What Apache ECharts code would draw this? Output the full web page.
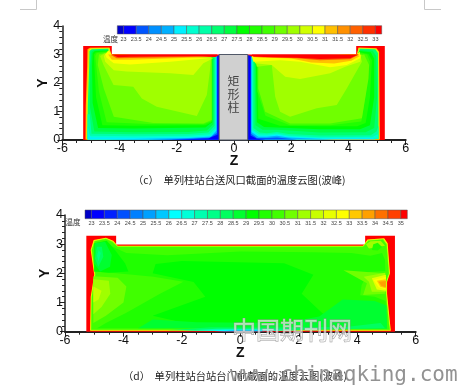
<!DOCTYPE html>
<html><head><meta charset="utf-8">
<style>html,body{margin:0;padding:0;background:#fff}#c{width:459px;height:388px}canvas{filter:blur(0.6px)}</style>
<script src="https://cdn.jsdelivr.net/npm/echarts@6/dist/echarts.min.js"></script>
</head><body><div id="c"></div>
<script>
// Legend levels (tick labels of the colour bars)
const levelsC=[23,23.5,24,24.5,25,25.5,26,26.5,27,27.5,28,28.5,29,29.5,30,30.5,31,31.5,32,32.5,33];
const levelsD=[23,23.5,24,24.5,25,25.5,26,26.5,27,27.5,28,28.5,29,29.5,30,30.5,31,31.5,32,32.5,33,33.5,34,34.5,35];
const paletteC=['#0000c8','#0000ff','#0055ff','#0090ff','#00b0ff','#00f0ff','#00ffd0','#00ffa8','#00ff70','#00ff40','#00ff00','#20ff00','#40ff00','#70ff00','#a0ff00','#d0ff00','#ffff00','#ffc000','#ff9000','#ff6000','#ff3000','#ff0000'];
const paletteD=['#0000c8','#0000ff','#0020ff','#0050ff','#0080ff','#00a0ff','#00c8ff','#00ffff','#00ffd8','#00ffb0','#00ff88','#00ff60','#00ff30','#00ff00','#20ff00','#40ff00','#70ff00','#a0ff00','#c8ff00','#e8ff00','#ffff00','#ffc800','#ffa000','#ff7000','#ff4000','#ff0000'];
const xTicks=[-6,6], yTicks=[0,4];
const captionC='（c）  单列柱站台送风口截面的温度云图(波峰)';
const captionD='（d）  单列柱站台站台门前截面的温度云图(波峰)';
const columnC=[[-0.52,0.48,3]];
const columnText='矩\n形\n柱';
// Room outlines [z,y]
const roomC=[[-5.27,0],[-5.27,3.3],[-4.27,3.3],[-4.27,3.0],[4.27,3.0],[4.27,3.3],[5.27,3.3],[5.27,0]];
const roomD=[[-5.27,0],[-5.27,3.29],[-4.25,3.29],[-4.25,2.99],[4.27,2.99],[4.27,3.29],[5.29,3.29],[5.29,0]];
// Temperature contour regions: [level, boundary in Z,Y]
const leftBandsC=[
[31,[[-5.19,0.02],[-5.18,1.2],[-5.13,2.6],[-5.12,3.18],[-5.03,3.24],[-4.35,3.25],[-4.3,3.0],[-0.55,2.9],[-0.52,0.02]]],
[30,[[-5.15,0.02],[-5.14,1.2],[-5.09,2.6],[-5.08,3.15],[-5,3.21],[-4.35,3.22],[-4.3,3.0],[-0.55,2.9],[-0.52,0.02]]],
[26.5,[[-5.12,0.02],[-5.11,1.2],[-5.06,2.6],[-5.05,3.12],[-4.97,3.18],[-4.4,3.2],[-4.3,2.95],[-0.55,2.9],[-0.52,0.02]]],
[26,[[-5.12,0.02],[-5.12,0.9],[-5.04,0.9],[-4.98,0.22],[-3.5,0.2],[-1.6,0.21],[-0.9,0.26],[-0.68,0.5],[-0.68,2.9],[-0.52,2.95],[-0.52,0.02]]],
[25.5,[[-5.12,0.02],[-5.12,0.5],[-5.03,0.15],[-3.5,0.13],[-1.6,0.15],[-0.85,0.2],[-0.65,0.42],[-0.65,2.9],[-0.52,2.95],[-0.52,0.02]]],
[25,[[-5.1,0.02],[-5.08,0.25],[-5,0.09],[-3.5,0.08],[-1.6,0.1],[-0.82,0.15],[-0.63,0.38],[-0.63,2.9],[-0.52,2.95],[-0.52,0.02]]],
[24.5,[[-4.5,0.02],[-3,0.04],[-1.6,0.07],[-0.8,0.12],[-0.61,0.33],[-0.61,2.92],[-0.52,2.95],[-0.52,0.02]]],
[23.5,[[-3,0.01],[-1.6,0.04],[-0.85,0.08],[-0.6,0.25],[-0.6,2.94],[-0.52,2.97],[-0.52,0.01]]],
[23,[[-2.2,0.01],[-0.9,0.05],[-0.58,0.18],[-0.58,2.95],[-0.52,2.97],[-0.52,0.01]]],
[27,[[-4.88,0.3],[-5.04,1.2],[-5.02,2.6],[-4.98,3.1],[-4.9,3.15],[-4.4,3.17],[-4.3,2.95],[-0.72,2.9],[-0.72,0.55],[-0.95,0.33],[-1.6,0.28],[-3.5,0.27]]],
[27.5,[[-4.75,0.42],[-4.94,1.3],[-4.96,2.6],[-4.94,3.05],[-4.86,3.12],[-4.4,3.14],[-4.3,2.95],[-0.76,2.9],[-0.76,0.62],[-1,0.44],[-3.5,0.4]]],
[28,[[-4.6,0.52],[-4.82,1.5],[-4.9,3],[-4.83,3.08],[-4.4,3.12],[-4.3,2.95],[-0.78,2.9],[-0.78,0.62],[-1,0.52],[-3.5,0.5]]],
[28.5,[[-4.45,0.62],[-4.72,1.7],[-4.85,2.95],[-4.8,3.05],[-4.4,3.1],[-4.3,2.95],[-0.78,2.9],[-0.78,0.66],[-1.05,0.55],[-3,0.56]]],
[29,[[-4.2,0.82],[-4.55,1.81],[-4.76,2.63],[-4.72,3.0],[-4.4,3.08],[-4.3,2.95],[-0.78,2.9],[-0.78,0.7],[-1.07,0.58],[-2.82,0.6]]],
[29.5,[[-4.56,2.63],[-4.21,1.93],[-3.52,1.87],[-3.22,1.46],[-2.7,1.17],[-1.3,0.84],[-0.95,1.58],[-0.84,2.45],[-0.8,2.9],[-4.3,2.95],[-4.5,3.05],[-4.68,2.95]]],
[30,[[-4.55,2.95],[-4.5,2.75],[-4.2,2.45],[-3.75,2.4],[-2.23,2.34],[-1.42,2.28],[-1.07,2.69],[-0.72,2.87],[-4.25,2.95],[-4.4,3.12]]],
[30.5,[[-4.5,3.0],[-4.45,2.89],[-4.2,2.69],[-3.63,2.65],[-2.23,2.75],[-0.72,2.89],[-4.25,2.98],[-4.38,3.15]]],
[31,[[-4.4,3.0],[-4.27,2.82],[-3.63,2.82],[-0.72,2.91],[-4.27,3.0]]],
[32,[[-4.3,2.98],[-4.1,2.87],[-3.6,2.88],[-0.68,2.93],[-4.27,3.0]]],
[33,[[-4.27,3.0],[-4.05,2.9],[-3.6,2.92],[-0.62,2.95],[-0.58,3.0]]]
];
const rightBandsC=[
[31,[[5.1,0.02],[5.08,2.0],[5.07,3.1],[4.98,3.22],[4.35,3.25],[4.3,3.0],[0.5,2.9],[0.5,0.02]]],
[30,[[5.07,0.02],[5.06,2.0],[5.05,3.08],[4.96,3.2],[4.35,3.22],[4.3,3.0],[0.5,2.9],[0.5,0.02]]],
[26.5,[[5.05,0.04],[5.04,2.0],[5.03,3.05],[4.94,3.18],[4.4,3.2],[4.3,2.95],[0.5,2.9],[0.5,0.02]]],
[26,[[5.05,0.04],[5.05,0.5],[4.98,0.3],[4.78,0.17],[3,0.16],[1.9,0.21],[1.5,0.28],[1.15,0.24],[0.9,0.26],[0.68,0.42],[0.68,2.9],[0.48,2.95],[0.48,0.02]]],
[25.5,[[5.05,0.04],[5.02,0.2],[4.85,0.11],[3,0.1],[1.9,0.16],[1.5,0.23],[1.15,0.19],[0.88,0.2],[0.65,0.36],[0.65,2.9],[0.48,2.95],[0.48,0.02]]],
[25,[[4.95,0.02],[4.85,0.07],[3,0.06],[1.9,0.12],[1.5,0.19],[1.15,0.15],[0.86,0.15],[0.63,0.33],[0.63,2.9],[0.48,2.95],[0.48,0.02]]],
[24.5,[[3.5,0.02],[1.9,0.09],[1.5,0.15],[1.15,0.11],[0.85,0.11],[0.61,0.28],[0.61,2.92],[0.48,2.95],[0.48,0.02]]],
[23.5,[[2.2,0.02],[1.5,0.09],[1.15,0.07],[0.8,0.07],[0.6,0.22],[0.6,2.94],[0.48,2.97],[0.48,0.01]]],
[23,[[1.1,0.01],[0.8,0.04],[0.58,0.16],[0.58,2.95],[0.48,2.97],[0.48,0.01]]],
[27,[[0.72,2.9],[4.3,2.95],[4.4,3.16],[4.85,3.13],[4.97,2.95],[5.0,1.5],[4.9,0.42],[4.6,0.27],[3,0.26],[1.5,0.36],[1,0.36],[0.75,0.52]]],
[27.5,[[0.76,2.9],[4.3,2.95],[4.4,3.12],[4.78,3.08],[4.9,2.85],[4.9,1.5],[4.75,0.52],[4.4,0.38],[3,0.38],[1.5,0.44],[1.05,0.46],[0.8,0.62]]],
[28,[[0.8,2.9],[4.3,2.95],[4.4,3.08],[4.7,3.02],[4.82,2.8],[4.75,1.5],[4.6,0.6],[4.3,0.48],[3,0.48],[1.6,0.5],[0.85,0.75]]],
[28.5,[[0.82,2.9],[4.3,2.95],[4.4,3.05],[4.65,3.0],[4.75,2.75],[4.6,1.6],[4.45,0.65],[3.36,0.52],[1.96,0.52],[1.1,0.85],[0.82,1.7]]],
[29,[[0.7,2.9],[0.85,2.57],[0.85,1.81],[1.09,0.99],[1.96,0.58],[3.36,0.58],[4.47,0.76],[4.7,2.16],[4.72,2.63],[4.55,3.0],[4.3,2.95]]],
[29.5,[[0.8,2.57],[1.32,2.63],[1.44,1.52],[1.61,0.99],[1.96,0.82],[2.89,1.11],[3.59,1.23],[3.94,1.81],[4.47,2.75],[4.4,3.05],[4.3,2.95],[0.7,2.9]]],
[30,[[0.74,2.69],[1.32,2.63],[1.79,2.22],[2.31,2.14],[3.36,2.34],[3.89,2.57],[4.41,2.75],[4.45,3.0],[4.3,2.97],[0.65,2.92]]],
[30.5,[[0.68,2.75],[1.61,2.8],[2.31,2.75],[3.36,2.55],[3.94,2.63],[4.41,2.87],[4.4,3.1],[4.28,3.0],[0.62,2.94]]],
[31,[[0.68,2.9],[2,2.86],[2.7,2.72],[3.5,2.68],[4.1,2.78],[4.4,2.95],[4.28,3.0]]],
[32,[[0.68,2.91],[2.2,2.87],[3,2.8],[4.05,2.83],[4.37,3.0]]],
[33,[[0.62,3.0],[0.68,2.92],[2.2,2.89],[3.01,2.84],[4.06,2.87],[4.35,3.0]]]
];
const bandsD=[
[32.5,[[-5.14,0.03],[-5.12,1.2],[-5.0,1.95],[-5.12,2.8],[-5.02,3.14],[-4.6,3.22],[-4.35,3.12],[-4.2,2.95],[4.2,2.95],[4.35,3.16],[4.92,3.2],[5.04,3.03],[5.12,2.0],[5.02,1.7],[5.02,1.3],[5.12,0.3],[5.15,0.03]]],
[31,[[-5.12,0.05],[-5.1,1.2],[-4.98,1.95],[-5.1,2.8],[-5,3.12],[-4.6,3.2],[-4.37,3.1],[-4.2,2.93],[4.2,2.93],[4.37,3.14],[4.9,3.18],[5.02,3.01],[5.1,2.0],[5,1.7],[5,1.3],[5.1,0.3],[5.13,0.05]]],
[30,[[-5.1,0.07],[-5.08,1.2],[-4.96,1.95],[-5.08,2.8],[-4.98,3.1],[-4.6,3.18],[-4.39,3.08],[-4.2,2.91],[4.2,2.91],[4.39,3.12],[4.88,3.16],[5,2.99],[5.08,2.0],[4.98,1.7],[4.98,1.3],[5.08,0.3],[5.11,0.07]]],
[29.5,[[-5.0,2.06],[-5.0,2.9],[-4.9,3.05],[-4.6,3.1],[-4.35,2.9],[-3.9,2.7],[-2.5,2.62],[0,2.75],[2.5,2.72],[3.8,2.7],[4.45,2.6],[4.85,2.7],[4.95,2.45],[4.96,2.08],[4.4,2.05],[4.15,1.6],[4.1,1.25],[4.6,1.2],[4.97,1.05],[5.02,0.12],[-4.9,0.12],[-4.6,0.3],[-3.9,0.65],[-2.75,1.3],[-1.95,1.71],[-2.97,1.88],[-4.23,2.0]]],
[30.5,[[-5.03,1.9],[-4.2,1.85],[-3.9,1.55],[-4.0,1.0],[-4.6,0.55],[-5.03,0.3]]],
[31,[[-5.03,1.8],[-4.5,1.75],[-4.45,1.3],[-4.75,0.85],[-5.03,0.6]]],
[31.5,[[-5.03,1.55],[-4.75,1.4],[-4.85,1.1],[-5.03,1.0]]],
[29,[[-2.9,2.32],[-2,2.42],[1.5,2.35],[2.5,1.95],[2.1,1.3],[2.9,0.55],[3.2,0.2],[-1.5,0.2],[-3.0,0.55],[-1.2,1.2],[-1.6,1.7],[-3,2.0]]],
[29,[[-5.0,2.06],[-5.0,3.03],[-4.57,3.12],[-4.29,2.8],[-3.94,2.34],[-3.83,2.06],[-4.5,2.02]]],
[28.5,[[-5.0,2.34],[-4.97,3.03],[-4.63,3.08],[-4.4,2.63],[-4.46,2.23],[-4.8,2.06]]],
[28,[[-4.97,2.51],[-4.91,2.91],[-4.74,2.91],[-4.69,2.57],[-4.86,2.23]]],
[27.5,[[-4.9,2.6],[-4.85,2.8],[-4.78,2.7],[-4.85,2.4]]],
[28.5,[[-3.5,0.12],[-3,0.42],[-1.5,0.32],[1.5,0.3],[2.7,0.52],[3.5,1.1],[4.6,1.05],[5.0,0.9],[5.02,0.1]]],
[28,[[-2.5,0.05],[-1,0.15],[1,0.14],[3.6,0.16],[4.8,0.3],[4.95,0.12],[1,0.04]]],
[27,[[-2,0.03],[-0.8,0.1],[0.8,0.1],[2.2,0.04]]],
[26,[[-1.5,0.02],[-0.5,0.07],[0.7,0.07],[1.5,0.02]]],
[25,[[-0.9,0.01],[-0.2,0.04],[0.5,0.04],[0.9,0.01]]],
[30.5,[[3.53,2.11],[4.9,2.0],[4.96,1.3],[4.2,1.26],[4.33,1.66]]],
[31,[[4.22,1.88],[4.96,2.02],[4.98,1.37],[4.5,1.37],[4.4,1.71]]],
[32,[[4.5,1.83],[4.98,1.95],[4.98,1.4],[4.67,1.45]]],
[32.5,[[4.56,1.77],[4.98,1.88],[4.98,1.45],[4.73,1.52]]],
[33,[[4.67,1.75],[4.98,1.8],[4.98,1.49],[4.79,1.54]]],
[33.5,[[4.73,1.71],[4.98,1.74],[4.98,1.52],[4.83,1.57]]],
[31,[[4.3,3.0],[4.45,3.1],[4.8,3.12],[4.95,2.95],[4.7,2.9],[4.4,2.85]]],
[29.5,[[4.55,3.0],[4.7,3.05],[4.85,2.9],[4.7,2.78],[4.5,2.8]]]
];
const axisColor='#222';
function colorOf(level,pal){return pal[Math.min(pal.length-1,Math.round((level-23)/0.5)+1)];}
function polySeries(g,polys,colorFn){
  return {type:'custom',coordinateSystem:'cartesian2d',xAxisIndex:g,yAxisIndex:g,clip:false,silent:true,animation:false,
    data:polys.map((_,i)=>[i]),
    renderItem:(p,api)=>{const b=polys[api.value(0)];
      return {type:'polygon',shape:{points:b.pts.map(q=>api.coord(q))},style:{fill:colorFn(b),stroke:null}};}};
}
function toPolys(arr){return arr.map(a=>({level:a[0],pts:a[1]}));}
function legendSeries(g,levels,pal){
  const edges=[levels[0]-0.25,...levels,levels[levels.length-1]+0.25];
  const cells=[];for(let i=0;i<edges.length-1;i++)cells.push([edges[i],edges[i+1],i]);
  return {type:'custom',coordinateSystem:'cartesian2d',xAxisIndex:g,yAxisIndex:g,silent:true,animation:false,
    data:cells,
    renderItem:(p,api)=>{const a=api.coord([api.value(0),0]),b=api.coord([api.value(1),1]);
      return {type:'rect',shape:{x:a[0],y:b[1],width:b[0]-a[0],height:a[1]-b[1]},
        style:{fill:pal[api.value(2)],stroke:'#555',lineWidth:0.5}};}};
}
function plotAxes(g,nameGapX,nameGapY){
  const lab={color:'#111',fontFamily:'Liberation Sans',fontSize:12.5,margin:2};
  return [{type:'value',gridIndex:g,min:xTicks[0],max:xTicks[1],interval:2,name:'Z',nameLocation:'center',nameGap:nameGapX,nameMoveOverlap:false,
      nameTextStyle:{fontFamily:'Liberation Sans',fontWeight:'bold',fontSize:14,color:'#111'},
      splitLine:{show:false},axisLine:{onZero:false,lineStyle:{color:axisColor,width:2}},
      axisTick:{length:5,lineStyle:{color:axisColor,width:1}},minorTick:{show:true,splitNumber:4,length:3,lineStyle:{color:axisColor}},axisLabel:lab},
    {type:'value',gridIndex:g,min:yTicks[0],max:yTicks[1],interval:1,name:'Y',nameLocation:'center',nameGap:nameGapY,nameMoveOverlap:false,
      nameRotate:90,nameTextStyle:{fontFamily:'Liberation Sans',fontWeight:'bold',fontSize:14,color:'#111'},
      splitLine:{show:false},axisLine:{onZero:false,lineStyle:{color:axisColor,width:1.5}},
      axisTick:{length:5,lineStyle:{color:axisColor,width:1}},minorTick:{show:true,splitNumber:5,length:3,lineStyle:{color:axisColor}},axisLabel:lab}];
}
function legendAxes(g,levels){
  return [{type:'value',gridIndex:g,min:levels[0]-0.25,max:levels[levels.length-1]+0.25,
      axisLine:{show:false},axisTick:{show:false},splitLine:{show:false},
      axisLabel:{customValues:levels,fontSize:5.5,color:'#444',fontFamily:'Liberation Sans',margin:2,hideOverlap:false}},
    {type:'value',gridIndex:g,min:0,max:1,show:false}];
}
const axC=plotAxes(0,14,12),axD=plotAxes(1,14,13),lgC=legendAxes(2,levelsC),lgD=legendAxes(3,levelsD);
const grey='#c8c8c8';
const chart=echarts.init(document.getElementById('c'),null,{renderer:'canvas'});
chart.setOption({
  animation:false,backgroundColor:'#fff',
  grid:[{left:62.3,top:26,width:343.4,height:114},{left:65,top:215,width:350.7,height:116.7},
        {left:117.3,top:25.7,width:264.4,height:8.3},{left:85,top:210,width:322.3,height:8.7}],
  xAxis:[axC[0],axD[0],lgC[0],lgD[0]],yAxis:[axC[1],axD[1],lgC[1],lgD[1]],
  series:[
    polySeries(0,[{level:33,pts:roomC}],b=>colorOf(b.level,paletteC)),
    polySeries(0,toPolys(leftBandsC),b=>colorOf(b.level,paletteC)),
    polySeries(0,toPolys(rightBandsC),b=>colorOf(b.level,paletteC)),
    {type:'custom',coordinateSystem:'cartesian2d',xAxisIndex:0,yAxisIndex:0,silent:true,animation:false,data:columnC,
     renderItem:(p,api)=>{const a=api.coord([api.value(0),0]),b=api.coord([api.value(1),api.value(2)]);
       return {type:'group',children:[
        {type:'rect',shape:{x:a[0],y:b[1],width:b[0]-a[0],height:a[1]-b[1]},style:{fill:'#d0d0d0',stroke:'#505868',lineWidth:1}},
        {type:'text',style:{x:(a[0]+b[0])/2,y:(a[1]+b[1])/2-3,text:columnText,align:'center',verticalAlign:'middle',font:'12px "Noto Sans CJK SC"',lineHeight:13,fill:'#444'}}]};}},
    polySeries(1,[{level:35,pts:roomD}],b=>colorOf(b.level,paletteD)),
    polySeries(1,toPolys(bandsD),b=>colorOf(b.level,paletteD)),
    legendSeries(2,levelsC,paletteC),
    legendSeries(3,levelsD,paletteD)
  ],
  graphic:[
    {type:'line',shape:{x1:20,y1:9.5,x2:36.5,y2:9.5},style:{stroke:grey}},
    {type:'line',shape:{x1:36.5,y1:0,x2:36.5,y2:9.5},style:{stroke:grey}},
    {type:'line',shape:{x1:424.5,y1:9.5,x2:441,y2:9.5},style:{stroke:grey}},
    {type:'line',shape:{x1:424.5,y1:0,x2:424.5,y2:9.5},style:{stroke:grey}},
    {type:'text',x:103,y:39,style:{text:'温度',font:'7.5px "Noto Sans CJK SC"',fill:'#333',verticalAlign:'middle'}},
    {type:'text',x:65.5,y:222,style:{text:'温度',font:'7.5px "Noto Sans CJK SC"',fill:'#333',verticalAlign:'middle'}},
    {type:'text',x:133,y:180,style:{text:captionC,font:'10.3px "Noto Sans CJK SC"',fill:'#222',verticalAlign:'middle'}},
    {type:'text',x:123,y:376,style:{text:captionD,font:'10.3px "Noto Sans CJK SC"',fill:'#222',verticalAlign:'middle'}},
    {type:'text',x:232,y:330,z:50,style:{text:'中国期刊网',font:'24px "Noto Sans CJK SC"',fill:'rgba(255,255,255,0.55)',stroke:'#999',lineWidth:0.8,verticalAlign:'middle'}},
    {type:'text',x:230,y:376,z:50,style:{text:'www.chinaqking.com',font:'21px "DejaVu Sans Mono"',fill:'#929292',verticalAlign:'middle'}}
  ]
});
</script></body></html>
